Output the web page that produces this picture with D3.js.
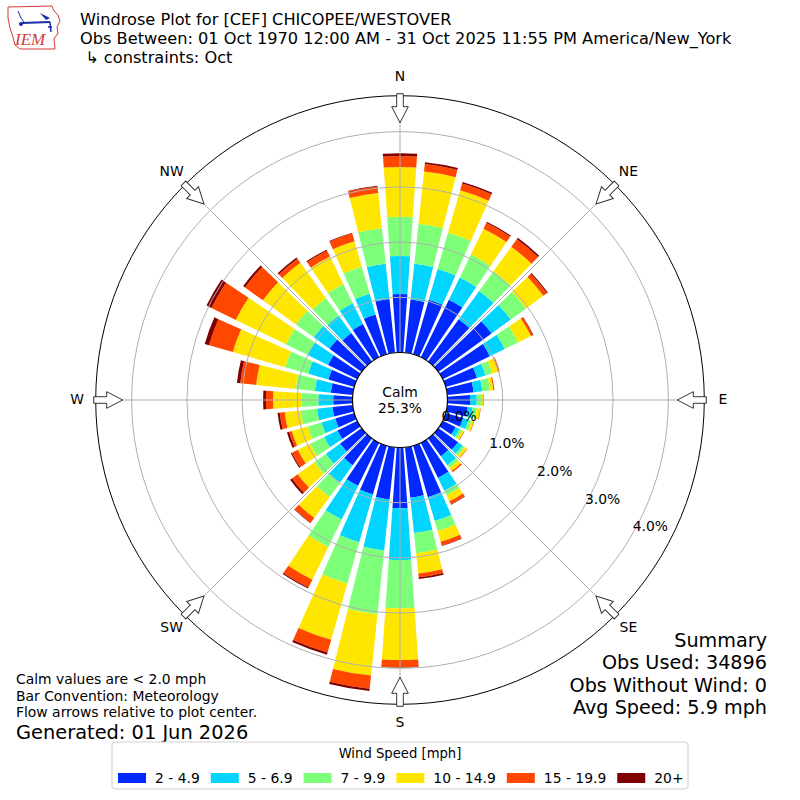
<!DOCTYPE html>
<html>
<head>
<meta charset="utf-8">
<script src="https://cdn.jsdelivr.net/npm/d3@7"></script>
<style>
  body { margin: 0; background: #fff; }
  text { font-family: "DejaVu Sans", sans-serif; fill: #000; white-space: pre; }
</style>
</head>
<body>
<div id="chart"></div>
<script>
// wind direction (deg, from) and speed bins
var directions = d3.range(0, 360, 10);
var speedLabels = ["2 - 4.9", "5 - 6.9", "7 - 9.9", "10 - 14.9", "15 - 19.9", "20+"];
var speedColors = ["#0028ff", "#00d4ff", "#7dff7a", "#ffe600", "#ff4700", "#800000"];

// percent of obs in each bin, one value per direction (0, 10, ... 350)
var bin2to5 = [1.06, 0.97, 1.03, 1.16, 0.95, 1.19, 0.95, 0.59, 0.48, 0.41, 0.37, 0.33,
  0.26, 0.44, 0.40, 0.71, 0.97, 0.92, 1.10, 0.95, 0.92, 0.87, 0.60, 0.48,
  0.40, 0.36, 0.37, 0.35, 0.40, 0.49, 0.59, 0.72, 0.64, 0.67, 0.75, 0.98];
var bin5to7 = [0.69, 0.65, 0.58, 0.45, 0.63, 0.43, 0.30, 0.16, 0.16, 0.12, 0.09, 0.10,
  0.08, 0.10, 0.20, 0.26, 0.45, 0.64, 0.94, 0.93, 0.90, 0.68, 0.39, 0.32,
  0.27, 0.26, 0.28, 0.27, 0.29, 0.38, 0.41, 0.35, 0.39, 0.42, 0.39, 0.64];
var bin7to10 = [0.71, 0.73, 0.68, 0.46, 0.44, 0.34, 0.27, 0.13, 0.14, 0.08, 0.08, 0.06,
  0.05, 0.05, 0.06, 0.09, 0.19, 0.37, 0.87, 1.16, 0.78, 0.55, 0.32, 0.26,
  0.28, 0.26, 0.30, 0.31, 0.35, 0.43, 0.44, 0.40, 0.39, 0.39, 0.51, 0.65];
var bin10to15 = [0.90, 0.95, 0.80, 0.52, 0.55, 0.39, 0.26, 0.11, 0.06, 0.04, 0.06, 0.04,
  0.04, 0.05, 0.07, 0.12, 0.20, 0.37, 0.94, 1.12, 1.06, 0.66, 0.47, 0.37,
  0.25, 0.30, 0.29, 0.51, 0.72, 0.99, 1.01, 0.74, 0.79, 0.55, 0.48, 0.64];
var bin15to20 = [0.20, 0.14, 0.13, 0.12, 0.17, 0.08, 0.04, 0.03, 0.02, 0.01, 0.01, 0.01,
  0.01, 0.01, 0.03, 0.06, 0.07, 0.07, 0.13, 0.24, 0.24, 0.16, 0.11, 0.13,
  0.12, 0.05, 0.09, 0.13, 0.29, 0.45, 0.49, 0.40, 0.09, 0.12, 0.15, 0.12];
var bin20plus = [0.05, 0.03, 0.03, 0.02, 0.03, 0.02, 0.01, 0.00, 0.00, 0.00, 0.00, 0.00,
  0.00, 0.00, 0.00, 0.01, 0.01, 0.03, 0.01, 0.04, 0.04, 0.02, 0.01, 0.04,
  0.02, 0.04, 0.04, 0.05, 0.06, 0.08, 0.10, 0.04, 0.03, 0.02, 0.01, 0.01];

var rTicks = [0, 1, 2, 3, 4];
var compass = ["N", "NE", "E", "SE", "S", "SW", "W", "NW"];
var calmPct = "25.3%";

var titleLines = ["Windrose Plot for [CEF] CHICOPEE/WESTOVER",
  "Obs Between: 01 Oct 1970 12:00 AM - 31 Oct 2025 11:55 PM America/New_York",
  " \u21B3 constraints: Oct"];
var noteLines = ["Calm values are < 2.0 mph", "Bar Convention: Meteorology",
  "Flow arrows relative to plot center."];
var generated = "Generated: 01 Jun 2026";
var summaryLines = ["Summary", "Obs Used: 34896", "Obs Without Wind: 0", "Avg Speed: 5.9 mph"];

var width = 800, height = 800, cx = 400, cy = 400;
var rmax = 4.652;
var small = "13.9px";

var svg = d3.select("#chart").append("svg")
  .attr("width", width)
  .attr("height", height);

var r = d3.scaleLinear().domain([0, rmax]).range([47.5, 304.3]);
var ang = d3.scaleLinear().domain([0, 360]).range([0, 2 * Math.PI]);

var rows = directions.map(function(d, i) {
  return {dir: d, b0: bin2to5[i], b1: bin5to7[i], b2: bin7to10[i],
    b3: bin10to15[i], b4: bin15to20[i], b5: bin20plus[i]};
});
var keys = ["b0", "b1", "b2", "b3", "b4", "b5"];
var stacked = d3.stack().keys(keys)(rows);

var g = svg.append("g")
  .attr("transform", "translate(" + cx + "," + cy + ")");

var arc = d3.arc();
var half = 4; // bar opening 0.8 of the 10 deg sector

stacked.forEach(function(layer, k) {
  g.append("g").selectAll("path")
    .data(layer)
    .enter().append("path")
    .attr("fill", speedColors[k])
    .attr("d", function(d) {
      return arc({innerRadius: r(d[0]), outerRadius: r(d[1]),
        startAngle: ang(d.data.dir - half), endAngle: ang(d.data.dir + half)});
    });
});

// grid on top of bars
g.selectAll(".ring")
  .data(rTicks)
  .enter().append("circle")
  .attr("r", function(d) { return r(d); })
  .attr("fill", "none")
  .attr("stroke", "#b0b0b0")
  .attr("stroke-width", 1);

g.selectAll(".spoke")
  .data(d3.range(0, 360, 45))
  .enter().append("line")
  .attr("x1", function(d) { return r(0) * Math.sin(ang(d)); })
  .attr("y1", function(d) { return -r(0) * Math.cos(ang(d)); })
  .attr("x2", function(d) { return r(rmax) * Math.sin(ang(d)); })
  .attr("y2", function(d) { return -r(rmax) * Math.cos(ang(d)); })
  .attr("stroke", "#b0b0b0")
  .attr("stroke-width", 1);

// outer frame
g.append("circle")
  .attr("r", r(rmax))
  .attr("fill", "none")
  .attr("stroke", "#000")
  .attr("stroke-width", 1);

// calm circle
g.append("circle")
  .attr("r", r(0))
  .attr("fill", "#fff")
  .attr("stroke", "#000")
  .attr("stroke-width", 1.2);
g.append("text").attr("x", 0).attr("y", -8)
  .attr("text-anchor", "middle").attr("dominant-baseline", "central")
  .style("font-size", small).text("Calm");
g.append("text").attr("x", 0).attr("y", 8)
  .attr("text-anchor", "middle").attr("dominant-baseline", "central")
  .style("font-size", small).text(calmPct);

// radial tick labels
g.selectAll(".rlab")
  .data(rTicks)
  .enter().append("text")
  .attr("x", function(d) { return r(d) * Math.sin(ang(120)) + 18; })
  .attr("y", function(d) { return -r(d) * Math.cos(ang(120)) - 8; })
  .attr("text-anchor", "middle")
  .attr("dominant-baseline", "central")
  .style("font-size", small)
  .text(function(d) { return d.toFixed(1) + "%"; });

// compass labels
g.selectAll(".clab")
  .data(compass)
  .enter().append("text")
  .attr("x", function(d, i) { return 323 * Math.sin(ang(i * 45)); })
  .attr("y", function(d, i) { return -323 * Math.cos(ang(i * 45)) - 1; })
  .attr("text-anchor", "middle")
  .attr("dominant-baseline", "central")
  .style("font-size", small)
  .text(function(d) { return d; });

// hollow flow arrows pointing in to the centre
var ro = r(rmax);
var arrowPts = [[-3.3, -ro - 2], [3.3, -ro - 2], [3.3, -ro + 11], [8.3, -ro + 11],
  [0, -ro + 27], [-8.3, -ro + 11], [-3.3, -ro + 11]];
g.selectAll(".arrow")
  .data(d3.range(0, 360, 45))
  .enter().append("polygon")
  .attr("points", arrowPts.map(function(p) { return p.join(","); }).join(" "))
  .attr("transform", function(d) { return "rotate(" + d + ")"; })
  .attr("fill", "#fff")
  .attr("stroke", "#333")
  .attr("stroke-width", 1);

// header
svg.selectAll(".title")
  .data(titleLines)
  .enter().append("text")
  .attr("x", 80)
  .attr("y", function(d, i) { return 19 + i * 19; })
  .attr("dominant-baseline", "central")
  .style("font-size", "16.2px")
  .text(function(d) { return d; });

// IEM logo
var logo = svg.append("g");
logo.append("path")
  .attr("d", "M8,7 L52,6 L54,11 L58,15 L60,21 L57,27 L58,33 L54,39 L55,49 L20,49 L15,45 L13,37 L10,28 L8,18 Z")
  .attr("fill", "none").attr("stroke", "#d43b3b").attr("stroke-width", 1);
logo.append("line").attr("x1", 22).attr("y1", 23).attr("x2", 50).attr("y2", 22)
  .attr("stroke", "#1a2ba8").attr("stroke-width", 2);
logo.append("path").attr("d", "M40,13 L50,18 L46,20 Z").attr("fill", "#1a2ba8");
logo.append("path").attr("d", "M18,11 L21,18 L24,22").attr("fill", "none")
  .attr("stroke", "#1a2ba8").attr("stroke-width", 1);
logo.append("path").attr("d", "M50,22 L51,32 M48,27 L52,27").attr("fill", "none")
  .attr("stroke", "#1a2ba8").attr("stroke-width", 1.5);
logo.append("circle").attr("cx", 21).attr("cy", 24).attr("r", 2).attr("fill", "#1a2ba8");
logo.append("text").attr("x", 15).attr("y", 45)
  .style("font-family", "'Liberation Serif', serif").style("font-style", "italic")
  .style("font-size", "17px").style("fill", "#d43b3b").text("IEM");

// notes bottom left
svg.selectAll(".note")
  .data(noteLines)
  .enter().append("text")
  .attr("x", 16)
  .attr("y", function(d, i) { return 679 + i * 16.5; })
  .attr("dominant-baseline", "central")
  .style("font-size", small)
  .text(function(d) { return d; });
svg.append("text").attr("x", 16).attr("y", 732.5)
  .attr("dominant-baseline", "central")
  .style("font-size", "19.4px").text(generated);

// summary bottom right
svg.selectAll(".summary")
  .data(summaryLines)
  .enter().append("text")
  .attr("x", 767)
  .attr("y", function(d, i) { return 640 + i * 22.5; })
  .attr("text-anchor", "end")
  .attr("dominant-baseline", "central")
  .style("font-size", "19.2px")
  .text(function(d) { return d; });

// legend
var legend = svg.append("g");
legend.append("rect")
  .attr("x", 112).attr("y", 742).attr("width", 576).attr("height", 47)
  .attr("rx", 3).attr("fill", "#fff").attr("stroke", "#d0d0d0");
legend.append("text").attr("x", 400).attr("y", 753)
  .attr("text-anchor", "middle").attr("dominant-baseline", "central")
  .style("font-size", "13.2px").text("Wind Speed [mph]");
var lx = 118;
speedLabels.forEach(function(lab, i) {
  legend.append("rect").attr("x", lx).attr("y", 773).attr("width", 28).attr("height", 10)
    .attr("fill", speedColors[i]);
  var t = legend.append("text").attr("x", lx + 37).attr("y", 778)
    .attr("dominant-baseline", "central")
    .style("font-size", small).text(lab);
  lx = lx + 37 + t.node().getComputedTextLength() + 11;
});
</script>
</body>
</html>
